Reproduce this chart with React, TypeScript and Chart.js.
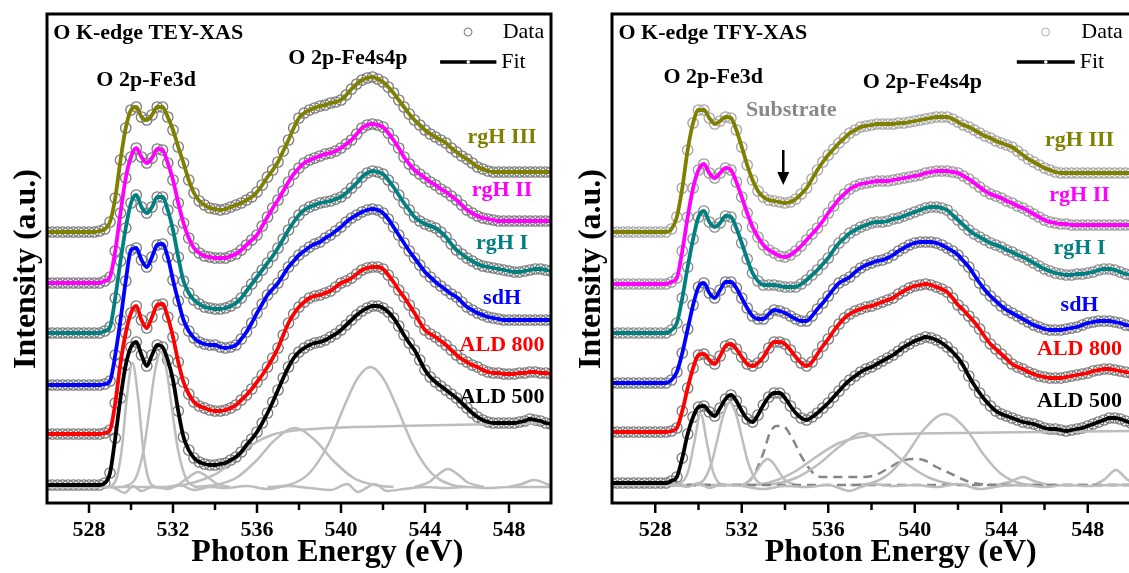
import React, { useEffect, useRef } from "react";
import { Chart, registerables } from "chart.js";
Chart.register(...registerables);

const FONT = "'Liberation Serif', 'Times New Roman', serif";

// Photon energy grid (eV)
const energy = [
  526, 526.25, 526.5, 526.75, 527, 527.25, 527.5, 527.75, 528, 528.25, 528.5, 528.75,
  529, 529.25, 529.5, 529.75, 530, 530.25, 530.5, 530.75, 531, 531.25, 531.5, 531.75,
  532, 532.25, 532.5, 532.75, 533, 533.25, 533.5, 533.75, 534, 534.25, 534.5, 534.75,
  535, 535.25, 535.5, 535.75, 536, 536.25, 536.5, 536.75, 537, 537.25, 537.5, 537.75,
  538, 538.25, 538.5, 538.75, 539, 539.25, 539.5, 539.75, 540, 540.25, 540.5, 540.75,
  541, 541.25, 541.5, 541.75, 542, 542.25, 542.5, 542.75, 543, 543.25, 543.5, 543.75,
  544, 544.25, 544.5, 544.75, 545, 545.25, 545.5, 545.75, 546, 546.25, 546.5, 546.75,
  547, 547.25, 547.5, 547.75, 548, 548.25, 548.5, 548.75, 549, 549.25, 549.5, 549.75, 550,
];
const xTicks = [528, 530, 532, 534, 536, 538, 540, 542, 544, 546, 548];
const seriesNames = ["rgH III", "rgH II", "rgH I", "sdH", "ALD 800", "ALD 500"];
const seriesColors = ["#808000", "#ff00ff", "#008080", "#0000ff", "#ff0000", "#000000"];

// ---- TEY (left panel), stacked intensity (a.u.) ----
const teyRgH3 = [
  271, 271, 271, 271, 271, 271, 271, 271, 271, 271, 272, 274,
  281, 305, 343, 375, 393, 396, 386, 383, 388, 396, 396, 386,
  373, 356, 340, 323, 310, 302, 298, 295, 294, 293, 294, 296,
  298, 300, 303, 306, 311, 318, 326, 333, 341, 352, 363, 375,
  385, 390, 393, 395, 397, 398, 400, 401, 403, 408, 414, 419,
  423, 425, 426, 424, 421, 416, 410, 403, 396, 389, 383, 378,
  373, 369, 366, 363, 360, 355, 351, 347, 344, 340, 336, 334,
  332, 331, 331, 331, 331, 331, 331, 331, 331, 331, 331, 331, 331,
];
const teyRgH2 = [
  220, 220, 220, 220, 220, 220, 220, 220, 220, 220, 220, 222,
  226, 252, 290, 325, 346, 355, 346, 340, 345, 354, 353, 340,
  323, 300, 280, 265, 255, 250, 247, 246, 245, 245, 245, 247,
  249, 253, 258, 263, 268, 277, 286, 295, 303, 312, 321, 329,
  335, 340, 343, 345, 347, 349, 350, 352, 355, 359, 363, 369,
  375, 378, 379, 378, 376, 370, 363, 355, 346, 339, 333, 329,
  325, 321, 318, 314, 311, 307, 303, 298, 293, 290, 287, 285,
  284, 283, 282, 282, 282, 282, 282, 282, 282, 282, 282, 282, 282,
];
const teyRgH1 = [
  170, 170, 170, 170, 170, 170, 170, 170, 170, 170, 170, 172,
  176, 205, 242, 275, 300, 308, 296, 290, 296, 306, 306, 293,
  273, 246, 222, 210, 203, 199, 196, 195, 194, 194, 195, 197,
  200, 205, 212, 219, 226, 233, 240, 247, 255, 264, 273, 281,
  288, 293, 296, 298, 300, 301, 302, 304, 306, 310, 315, 320,
  326, 330, 332, 331, 329, 323, 316, 308, 300, 293, 286, 282,
  279, 277, 275, 271, 266, 259, 253, 249, 245, 242, 239, 237,
  236, 235, 234, 233, 232, 231, 231, 232, 233, 234, 234, 233, 232,
];
const teySdH = [
  118, 118, 118, 118, 118, 118, 118, 118, 118, 118, 118, 119,
  122, 148, 183, 222, 253, 255, 243, 236, 246, 258, 259, 246,
  223, 202, 183, 172, 165, 161, 159, 158, 158, 156, 155, 156,
  158, 164, 171, 180, 190, 199, 208, 214, 220, 228, 236, 242,
  248, 252, 256, 259, 261, 265, 268, 272, 276, 281, 285, 288,
  291, 293, 294, 293, 290, 284, 276, 268, 260, 252, 245, 238,
  231, 226, 221, 217, 213, 209, 206, 201, 196, 193, 190, 188,
  186, 185, 184, 183, 183, 183, 183, 183, 183, 183, 183, 183, 183,
];
const teyAld800 = [
  69, 69, 69, 69, 69, 69, 69, 69, 69, 69, 69, 70,
  73, 100, 140, 170, 190, 197, 183, 175, 186, 198, 199, 186,
  166, 141, 121, 109, 101, 97, 95, 93, 92, 92, 93, 95,
  98, 103, 108, 114, 121, 128, 136, 145, 155, 168, 180, 189,
  196, 201, 205, 207, 208, 210, 212, 216, 220, 222, 225, 229,
  233, 235, 236, 236, 234, 228, 221, 213, 206, 198, 190, 181,
  173, 169, 166, 162, 158, 153, 148, 144, 141, 138, 136, 133,
  131, 130, 130, 129, 129, 129, 130, 130, 131, 131, 130, 130, 129,
];
const teyAld500 = [
  18, 18, 18, 18, 18, 18, 18, 18, 18, 18, 18, 20,
  30, 65, 105, 138, 156, 161, 148, 137, 148, 158, 156, 143,
  123, 92, 66, 53, 45, 41, 39, 38, 38, 39, 40, 43,
  46, 51, 58, 64, 71, 80, 90, 101, 113, 125, 136, 145,
  151, 155, 158, 160, 161, 163, 166, 169, 173, 178, 183, 188,
  192, 195, 197, 197, 195, 191, 185, 177, 168, 160, 153, 143,
  133, 126, 121, 117, 113, 109, 105, 100, 95, 90, 86, 83,
  81, 80, 80, 80, 80, 80, 81, 82, 84, 83, 82, 80, 79,
];

// TEY fit components of ALD 500
const teyC1E = [529.0, 529.3, 529.55, 529.8, 530.07, 530.35, 530.6, 530.85, 531.15];
const teyC1I = [16, 24, 52, 105, 140, 103, 50, 23, 16];
const teyC2E = [529.6, 530.2, 530.6, 530.9, 531.15, 531.42, 531.7, 531.95, 532.25, 532.65, 533.1];
const teyC2I = [16, 24, 53, 96, 133, 151, 132, 94, 52, 23, 16];
const teyC3E = [531.8, 532.3, 532.7, 533.2, 533.7, 534.1, 534.7];
const teyC3I = [16, 19, 25, 31, 25, 19, 16];
const teyStepE = [526, 531.5, 532.5, 533.5, 534.2, 535, 535.9, 536.7, 537.6, 539.3, 542.7, 550];
const teyStepI = [16, 16, 18, 24, 31, 45, 60, 68, 72, 75, 77, 80];
const teyC5E = [533, 534, 535, 536, 536.8, 537.8, 538.8, 539.6, 540.6, 541.6, 542.5];
const teyC5I = [16, 18, 25, 43, 62, 75, 62, 43, 25, 18, 16];
const teyC6E = [536.5, 537.5, 538.5, 539.4, 540.2, 540.8, 541.4, 542.0, 542.6, 543.4, 544.3, 545.3, 546];
const teyC6I = [16, 18, 30, 59, 99, 125, 136, 125, 99, 59, 30, 18, 16];
const teyC7E = [543.5, 544.2, 544.6, 545.1, 545.6, 546.0, 546.8];
const teyC7I = [16, 21, 28, 34, 28, 21, 16];
const teyC8E = [548, 548.6, 549.2, 549.8, 550];
const teyC8I = [16, 19, 23, 19, 17];
const teyResE = [526, 528, 529, 529.3, 529.7, 530.1, 530.5, 531, 531.8, 532.3, 533, 533.8, 534.5, 535.5, 536.5, 537.5, 538.5, 539.5, 540.3, 540.8, 541.2, 541.6, 542.2, 543, 544, 545, 546, 547, 548, 550];
const teyResI = [16, 16, 16, 14, 10, 17, 12, 16, 14, 18, 13, 16, 15, 17, 14, 17, 15, 13, 19, 11, 15, 19, 12, 14, 16, 15, 16, 15, 16, 16];

// ---- TFY (right panel) ----
const tfyRgH3 = [
  271, 271, 271, 271, 271, 271, 271, 271, 271, 271, 271, 274,
  286, 315, 353, 380, 393, 393, 385, 379, 382, 386, 385, 373,
  356, 338, 323, 312, 306, 303, 302, 301, 300, 301, 304, 309,
  315, 324, 333, 341, 348, 354, 360, 365, 370, 373, 376, 377,
  378, 379, 379, 379, 379, 380, 380, 381, 382, 383, 384, 385,
  386, 386, 386, 384, 381, 378, 376, 373, 370, 367, 365, 362,
  360, 358, 356, 352, 348, 344, 341, 338, 335, 333, 331, 330,
  330, 330, 330, 330, 330, 330, 330, 330, 330, 330, 330, 330, 330,
];
const tfyRgH2 = [
  219, 219, 219, 219, 219, 219, 219, 219, 219, 219, 219, 221,
  225, 252, 286, 315, 333, 339, 330, 325, 330, 335, 333, 321,
  306, 290, 276, 266, 258, 253, 250, 247, 246, 248, 252, 257,
  263, 269, 275, 282, 290, 297, 304, 309, 314, 317, 319, 320,
  321, 322, 322, 322, 323, 324, 325, 326, 327, 328, 330, 331,
  332, 332, 332, 331, 330, 327, 324, 320, 316, 312, 309, 307,
  305, 302, 300, 297, 295, 292, 289, 286, 283, 281, 280, 279,
  279, 278, 278, 278, 278, 278, 278, 278, 278, 278, 278, 278, 278,
];
const tfyRgH1 = [
  170, 170, 170, 170, 170, 170, 170, 170, 170, 170, 170, 173,
  180, 205, 236, 264, 286, 292, 281, 276, 280, 287, 286, 275,
  260, 244, 230, 222, 218, 218, 218, 217, 216, 216, 216, 219,
  223, 228, 233, 239, 245, 253, 260, 265, 270, 273, 276, 278,
  280, 281, 281, 282, 284, 285, 287, 289, 291, 293, 295, 296,
  296, 295, 293, 288, 283, 278, 273, 269, 266, 263, 260, 258,
  256, 253, 251, 248, 246, 243, 240, 237, 234, 232, 230, 229,
  228, 228, 229, 229, 230, 231, 233, 234, 234, 233, 231, 229, 228,
];
const tfySdH = [
  120, 120, 120, 120, 120, 120, 120, 120, 120, 120, 120, 123,
  131, 150, 174, 198, 216, 220, 210, 205, 213, 221, 221, 215,
  205, 195, 187, 184, 184, 189, 193, 192, 190, 187, 184, 182,
  182, 187, 194, 200, 207, 214, 220, 223, 226, 231, 235, 238,
  240, 242, 243, 245, 248, 252, 255, 258, 260, 261, 261, 261,
  260, 258, 255, 252, 248, 242, 236, 228, 220, 213, 207, 202,
  197, 193, 190, 187, 184, 181, 178, 176, 174, 173, 173, 173,
  174, 175, 176, 178, 180, 181, 182, 182, 182, 181, 180, 178, 177,
];
const tfyAld800 = [
  71, 71, 71, 71, 71, 71, 71, 71, 71, 71, 71, 72,
  75, 92, 115, 135, 148, 149, 143, 139, 147, 157, 159, 154,
  146, 139, 137, 140, 146, 155, 161, 161, 159, 153, 146, 140,
  137, 141, 149, 157, 164, 172, 179, 185, 189, 192, 194, 196,
  197, 199, 201, 203, 205, 209, 212, 215, 217, 218, 219, 218,
  216, 214, 211, 205, 198, 193, 187, 181, 174, 166, 159, 154,
  149, 144, 139, 136, 134, 131, 129, 127, 126, 125, 125, 125,
  126, 127, 128, 129, 130, 132, 133, 134, 134, 133, 132, 131, 130,
];
const tfyAld500 = [
  20, 20, 20, 20, 20, 20, 20, 20, 20, 20, 20, 22,
  26, 45, 69, 86, 96, 97, 91, 87, 95, 104, 108, 102,
  92, 84, 81, 88, 98, 106, 110, 110, 105, 97, 90, 85,
  83, 86, 90, 95, 100, 106, 112, 118, 123, 127, 131, 134,
  136, 139, 142, 145, 148, 152, 156, 159, 162, 164, 166, 165,
  163, 160, 156, 151, 145, 137, 127, 118, 110, 103, 97, 92,
  89, 87, 85, 83, 81, 80, 79, 77, 75, 74, 74, 73,
  72, 73, 74, 75, 77, 79, 81, 83, 85, 85, 84, 82, 80,
];

const tfyC1E = [528.8, 529.3, 529.55, 529.8, 530.1, 530.4, 530.65, 530.9, 531.2];
const tfyC1I = [18, 22, 34, 60, 89, 59, 33, 21, 18];
const tfyC2E = [529.6, 530.2, 530.6, 530.9, 531.15, 531.45, 531.75, 532.0, 532.3, 532.7, 533.1];
const tfyC2I = [18, 22, 40, 66, 88, 101, 88, 66, 40, 22, 18];
const tfyC3E = [532, 532.4, 532.7, 532.95, 533.2, 533.45, 533.7, 534, 534.5];
const tfyC3I = [18, 23, 32, 40, 44, 40, 32, 23, 18];
const tfyStepE = [526, 532.5, 533.5, 534.5, 535.5, 536.5, 537.5, 539, 542, 546, 550];
const tfyStepI = [18, 18, 22, 32, 47, 60, 66, 69, 70, 71, 72];
const tfyC5E = [532.5, 533.5, 534.5, 535.5, 536.5, 537.6, 538.7, 539.7, 540.7, 541.7, 542.5];
const tfyC5I = [18, 19, 25, 38, 56, 70, 56, 38, 25, 19, 18];
const tfyC6E = [537, 537.8, 538.8, 539.6, 540.4, 541.4, 542.4, 543.2, 544, 545, 545.6];
const tfyC6I = [18, 19, 29, 48, 73, 89, 73, 48, 29, 19, 18];
const tfyC7E = [543.8, 544.5, 545, 545.5, 546.2];
const tfyC7I = [18, 22, 26, 22, 18];
const tfyC8E = [548.3, 548.8, 549.3, 549.8, 550];
const tfyC8I = [18, 24, 33, 24, 21];
const tfySubE = [526, 531.9, 532.5, 533, 533.3, 533.6, 533.9, 534.3, 534.8, 535.3, 535.7, 536.5, 537.5, 538.2, 538.8, 539.4, 539.9, 540.4, 541, 541.7, 542.4, 543, 544, 550];
const tfySubI = [18, 18, 26, 50, 70, 77, 77, 66, 45, 30, 26, 26, 26, 28, 35, 42, 44, 43, 36, 29, 22, 19, 18, 18];
const tfySubBaseE = [526, 550];
const tfySubBaseI = [18, 18];
const tfyResE = [526, 528, 529, 529.5, 530, 530.5, 531, 532, 533, 534, 535, 536, 537, 537.5, 538, 539, 540, 541, 542, 543, 544, 545, 546, 547, 548, 549, 550];
const tfyResI = [18, 18, 18, 16, 20, 15, 18, 17, 14, 17, 16, 18, 12, 16, 19, 17, 18, 16, 19, 14, 17, 18, 16, 18, 17, 18, 18];

type Comp = { e: number[]; v: number[]; kind: "light" | "dash" };
type Label = { text: string; e: number; y: number; color: string; size: number; weight: string; align: CanvasTextAlign };
type PanelSpec = {
  id: string;
  left: number;
  width: number;
  padRight: number;
  series: number[][];
  dataColors: string[];
  comps: Comp[];
  labels: Label[];
  legendCircleColor: string;
  arrowE?: number;
};

const pts = (xs: number[], ys: number[]) => xs.map((x, i) => ({ x, y: ys[i] }));

function makeLabels(title: string, seriesY: number[], fe3dE: number, fe3dY: number, fe4E: number, fe4Y: number, labE: number): Label[] {
  const out: Label[] = [
    { text: title, e: 526.3, y: 33, color: "#000", size: 22, weight: "bold", align: "left" },
    { text: "O 2p-Fe3d", e: fe3dE, y: fe3dY, color: "#000", size: 22, weight: "bold", align: "center" },
    { text: "O 2p-Fe4s4p", e: fe4E, y: fe4Y, color: "#000", size: 22, weight: "bold", align: "center" },
    { text: "Data", e: 547.7, y: 32, color: "#000", size: 22, weight: "normal", align: "left" },
    { text: "Fit", e: 547.63, y: 62, color: "#000", size: 22, weight: "normal", align: "left" },
  ];
  seriesNames.forEach((n, i) =>
    out.push({ text: n, e: labE, y: seriesY[i], color: seriesColors[i], size: 22, weight: "bold", align: "center" })
  );
  return out;
}

const leftSpec: PanelSpec = {
  id: "tey",
  left: 0,
  width: 565,
  padRight: 2,
  series: [teyRgH3, teyRgH2, teyRgH1, teySdH, teyAld800, teyAld500],
  dataColors: ["#7a7a7a", "#7a7a7a", "#7a7a7a", "#7a7a7a", "#7a7a7a", "#7a7a7a"],
  comps: [
    { e: teyResE, v: teyResI, kind: "light" },
    { e: teyStepE, v: teyStepI, kind: "light" },
    { e: teyC1E, v: teyC1I, kind: "light" },
    { e: teyC2E, v: teyC2I, kind: "light" },
    { e: teyC3E, v: teyC3I, kind: "light" },
    { e: teyC5E, v: teyC5I, kind: "light" },
    { e: teyC6E, v: teyC6I, kind: "light" },
    { e: teyC7E, v: teyC7I, kind: "light" },
    { e: teyC8E, v: teyC8I, kind: "light" },
  ],
  labels: makeLabels("O K-edge TEY-XAS", [137, 190, 243, 298, 345, 397], 530.72, 80, 540.33, 58, 547.67),
  legendCircleColor: "#777",
};

const rightSpec: PanelSpec = {
  id: "tfy",
  left: 565,
  width: 590,
  padRight: 24,
  series: [tfyRgH3, tfyRgH2, tfyRgH1, tfySdH, tfyAld800, tfyAld500],
  dataColors: ["#a5a5a5", "#999999", "#8a8a8a", "#7a7a7a", "#7a7a7a", "#7a7a7a"],
  comps: [
    { e: tfyResE, v: tfyResI, kind: "light" },
    { e: tfySubBaseE, v: tfySubBaseI, kind: "dash" },
    { e: tfyStepE, v: tfyStepI, kind: "light" },
    { e: tfyC1E, v: tfyC1I, kind: "light" },
    { e: tfyC2E, v: tfyC2I, kind: "light" },
    { e: tfyC3E, v: tfyC3I, kind: "light" },
    { e: tfyC5E, v: tfyC5I, kind: "light" },
    { e: tfyC6E, v: tfyC6I, kind: "light" },
    { e: tfyC7E, v: tfyC7I, kind: "light" },
    { e: tfyC8E, v: tfyC8I, kind: "light" },
    { e: tfySubE, v: tfySubI, kind: "dash" },
  ],
  labels: [
    ...makeLabels("O K-edge TFY-XAS", [140, 195, 248, 305, 349, 401], 530.68, 77, 540.35, 82, 547.62),
    { text: "Substrate", e: 534.29, y: 110, color: "#888888", size: 22, weight: "bold", align: "center" },
  ],
  legendCircleColor: "#aaa",
  arrowE: 533.92,
};

function makeDecor(p: PanelSpec) {
  return {
    id: "decor_" + p.id,
    afterDraw(chart: any) {
      const { ctx, chartArea: a, scales } = chart;
      const xs = scales.x;
      ctx.save();
      // frame
      ctx.strokeStyle = "#000";
      ctx.lineWidth = 3;
      ctx.strokeRect(a.left, a.top, a.right - a.left, a.bottom - a.top);
      // tick marks
      ctx.lineWidth = 2.5;
      for (const t of xTicks) {
        const x = xs.getPixelForValue(t);
        const major = (t - 528) % 4 === 0;
        ctx.beginPath();
        ctx.moveTo(x, a.bottom);
        ctx.lineTo(x, a.bottom + (major ? 10 : 7));
        ctx.stroke();
      }
      // texts
      ctx.textBaseline = "middle";
      for (const l of p.labels) {
        ctx.font = `${l.weight} ${l.size}px ${FONT}`;
        ctx.fillStyle = l.color;
        ctx.textAlign = l.align;
        ctx.fillText(l.text, xs.getPixelForValue(l.e), l.y);
      }
      // legend symbols
      const cx = xs.getPixelForValue(546.05);
      ctx.beginPath();
      ctx.arc(cx, 32, 4, 0, Math.PI * 2);
      ctx.strokeStyle = p.legendCircleColor;
      ctx.lineWidth = 1;
      ctx.stroke();
      const fx1 = xs.getPixelForValue(544.72);
      const fx2 = xs.getPixelForValue(547.4);
      ctx.beginPath();
      ctx.moveTo(fx1, 62);
      ctx.lineTo(fx2, 62);
      ctx.strokeStyle = "#000";
      ctx.lineWidth = 3.5;
      ctx.stroke();
      ctx.beginPath();
      ctx.arc((fx1 + fx2) / 2, 62, 1.8, 0, Math.PI * 2);
      ctx.fillStyle = "#fff";
      ctx.fill();
      // arrow
      if (p.arrowE !== undefined) {
        const ax = xs.getPixelForValue(p.arrowE);
        ctx.strokeStyle = "#000";
        ctx.lineWidth = 2.5;
        ctx.beginPath();
        ctx.moveTo(ax, 150);
        ctx.lineTo(ax, 175);
        ctx.stroke();
        ctx.beginPath();
        ctx.moveTo(ax - 6, 172);
        ctx.lineTo(ax + 6, 172);
        ctx.lineTo(ax, 185);
        ctx.closePath();
        ctx.fillStyle = "#000";
        ctx.fill();
      }
      // axis titles
      ctx.fillStyle = "#000";
      ctx.font = `bold 32px ${FONT}`;
      ctx.textAlign = "center";
      ctx.fillText("Photon Energy (eV)", xs.getPixelForValue(539.35), 553);
      ctx.translate(a.left - 20, 269);
      ctx.rotate(-Math.PI / 2);
      ctx.fillText("Intensity (a.u.)", 0, 0);
      ctx.restore();
    },
  };
}

function Panel({ spec }: { spec: PanelSpec }) {
  const ref = useRef<HTMLCanvasElement | null>(null);
  useEffect(() => {
    if (!ref.current) return;
    const datasets: any[] = [];
    spec.series.forEach((s, i) => {
      datasets.push({
        data: pts(energy, s),
        showLine: false,
        pointRadius: 5.2,
        pointBorderWidth: 1.3,
        pointBorderColor: spec.dataColors[i],
        pointBackgroundColor: "rgba(0,0,0,0)",
        order: 3,
      });
    });
    spec.comps.forEach((c) => {
      datasets.push({
        data: pts(c.e, c.v),
        borderColor: c.kind === "dash" ? "#868686" : "#bdbdbd",
        borderWidth: 2.5,
        borderDash: c.kind === "dash" ? [9, 6] : [],
        pointRadius: 0,
        cubicInterpolationMode: "monotone",
        fill: false,
        order: 2,
      });
    });
    spec.series.forEach((s, i) => {
      datasets.push({
        data: pts(energy, s),
        borderColor: seriesColors[i],
        borderWidth: 3.8,
        pointRadius: 0,
        cubicInterpolationMode: "monotone",
        fill: false,
        order: 1,
      });
    });
    const chart = new Chart(ref.current, {
      type: "line",
      data: { datasets },
      options: {
        animation: false,
        responsive: false,
        devicePixelRatio: 1,
        layout: { padding: { left: 47, top: 14, right: spec.padRight, bottom: 0 } },
        plugins: { legend: { display: false }, tooltip: { enabled: false } },
        scales: {
          x: {
            type: "linear",
            min: 526,
            max: 550,
            afterFit: (s: any) => {
              s.height = 70;
            },
            grid: { display: false, drawTicks: false },
            border: { display: false },
            ticks: {
              stepSize: 2,
              autoSkip: false,
              maxRotation: 0,
              padding: 14,
              color: "#000",
              font: { family: FONT, size: 22, weight: "bold" },
              callback: (v: any) => ((Number(v) - 528) % 4 === 0 ? String(v) : ""),
            },
          },
          y: { min: 0, max: 489, display: false },
        },
      } as any,
      plugins: [makeDecor(spec)],
    });
    return () => chart.destroy();
  }, [spec]);
  return (
    <canvas
      ref={ref}
      width={spec.width}
      height={573}
      style={{ position: "absolute", left: spec.left, top: 0, width: spec.width, height: 573 }}
    />
  );
}

export default function App() {
  return (
    <div style={{ position: "absolute", left: 0, top: 0, width: 1129, height: 573, overflow: "hidden", background: "#fff" }}>
      <Panel spec={leftSpec} />
      <Panel spec={rightSpec} />
    </div>
  );
}
